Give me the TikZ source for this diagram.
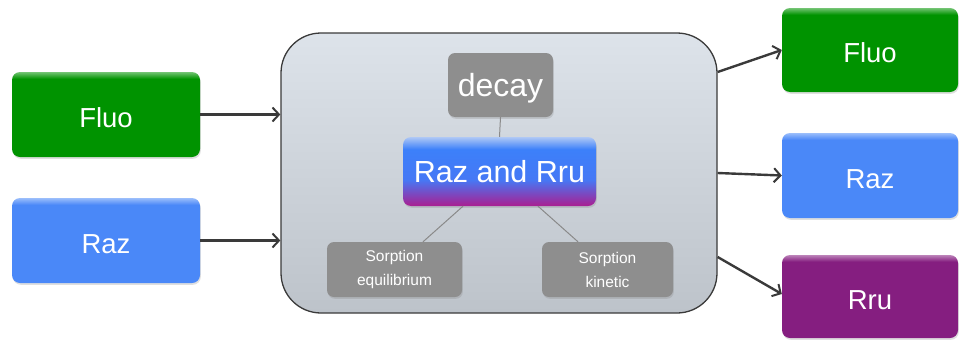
\documentclass[tikz,border=0pt]{standalone}
\usepackage{fontspec}
\setmainfont{Liberation Sans}
\usetikzlibrary{arrows.meta,shadows}

\definecolor{fluogreen}{HTML}{009300}
\definecolor{razblue}{HTML}{4A88F8}
\definecolor{rrupurple}{HTML}{851E80}
\definecolor{boxgrey}{HTML}{8E8E8E}
\definecolor{arrowgrey}{HTML}{3A3A3A}
\definecolor{linkgrey}{HTML}{8A8A8A}

% glossy fills: a lighter strip along the top edge
\pgfdeclareverticalshading{glossgreen}{100bp}{color(0bp)=(fluogreen); color(71bp)=(fluogreen); color(75bp)=(fluogreen!55!white); color(100bp)=(fluogreen!55!white)}
\pgfdeclareverticalshading{glossblue}{100bp}{color(0bp)=(razblue); color(71bp)=(razblue); color(75bp)=(razblue!55!white); color(100bp)=(razblue!55!white)}
\pgfdeclareverticalshading{glosspurple}{100bp}{color(0bp)=(rrupurple); color(71bp)=(rrupurple); color(75bp)=(rrupurple!55!white); color(100bp)=(rrupurple!55!white)}
\pgfdeclareverticalshading{mixed}{100bp}{color(0bp)=(rgb,255:red,165;green,35;blue,150); color(26bp)=(rgb,255:red,165;green,35;blue,150); color(44bp)=(rgb,255:red,70;green,120;blue,245); color(66bp)=(rgb,255:red,60;green,128;blue,250); color(75bp)=(rgb,255:red,175;green,200;blue,245); color(100bp)=(rgb,255:red,175;green,200;blue,245)}
\pgfdeclareverticalshading{panel}{100bp}{color(0bp)=(rgb,255:red,189;green,195;blue,202); color(25bp)=(rgb,255:red,189;green,195;blue,202); color(75bp)=(rgb,255:red,221;green,227;blue,234); color(100bp)=(rgb,255:red,221;green,227;blue,234)}

\tikzset{
  shade/.style={drop shadow={opacity=0.25,shadow xshift=0.8pt,shadow yshift=-1.8pt}},
  bigbox/.style={rounded corners=8pt, minimum width=188pt, minimum height=85pt,
    text=white, font=\fontsize{27.5}{32}\selectfont, inner sep=0pt,
    text height=25pt, text depth=0pt, shade},
  greybox/.style={rounded corners=7pt, fill=boxgrey, text=white, inner sep=0pt, shade},
  arr/.style={draw=arrowgrey, line width=2.4pt, -{Straight Barb[length=6.5pt,width=14pt,line width=2pt]}},
  link/.style={draw=linkgrey, line width=1pt}
}

\begin{document}
\begin{tikzpicture}[x=1pt,y=-1pt]
\useasboundingbox (0,0) rectangle (960,340);

% central panel
\node[rounded corners=40pt, shading=panel, draw=arrowgrey, line width=1.3pt,
      minimum width=436pt, minimum height=280pt, inner sep=0pt] (main) at (499,173) {};

% inputs
\node[bigbox, shading=glossgreen] (inFluo) at (106,114.5) {Fluo};
\node[bigbox, shading=glossblue] (inRaz) at (106,240.5) {Raz};

% outputs
\node[bigbox, shading=glossgreen, minimum width=176pt, minimum height=84pt] (outFluo) at (870,50) {Fluo};
\node[bigbox, shading=glossblue, minimum width=176pt] (outRaz) at (870,175.5) {Raz};
\node[bigbox, shading=glosspurple, minimum width=176pt, minimum height=83pt] (outRru) at (870,296.5) {Rru};

% panel contents
\node[greybox, minimum width=105pt, minimum height=64pt, font=\fontsize{32}{38}\selectfont,
      text height=29pt, text depth=6.7pt] (decay) at (500.5,85) {decay};
\node[rounded corners=8pt, shading=mixed, minimum width=193pt, minimum height=69pt,
      text=white, inner sep=0pt, font=\fontsize{30.5}{36}\selectfont, shade] (razrru) at (499.5,171.5) {Raz and Rru};
\node[greybox, minimum width=135pt, minimum height=55pt, align=center,
      font=\fontsize{15.5}{24}\selectfont] (seq) at (394.5,269.5) {Sorption\\equilibrium};
\node[greybox, minimum width=131pt, minimum height=55pt, align=center,
      font=\fontsize{15.5}{24}\selectfont] (skin) at (607.5,269.5) {Sorption\\kinetic};

\draw[link] (decay.south) -- (razrru.north);
\draw[link] ([xshift=-36.5pt]razrru.south) -- ([xshift=28.5pt]seq.north);
\draw[link] ([xshift=38.5pt]razrru.south) -- ([xshift=-29.5pt]skin.north);

% flows in
\draw[arr] (inFluo.east) -- (inFluo.east -| main.west);
\draw[arr] (inRaz.east) -- (inRaz.east -| main.west);

% flows out
\path (main.east) ++(0,-101) coordinate (m1);
\path (main.east) ++(0,84) coordinate (m3);
\draw[arr] (m1) -- (outFluo.west);
\draw[arr] (main.east) -- (outRaz.west);
\draw[arr] (m3) -- ([yshift=2.5pt]outRru.west);
\end{tikzpicture}
\end{document}
